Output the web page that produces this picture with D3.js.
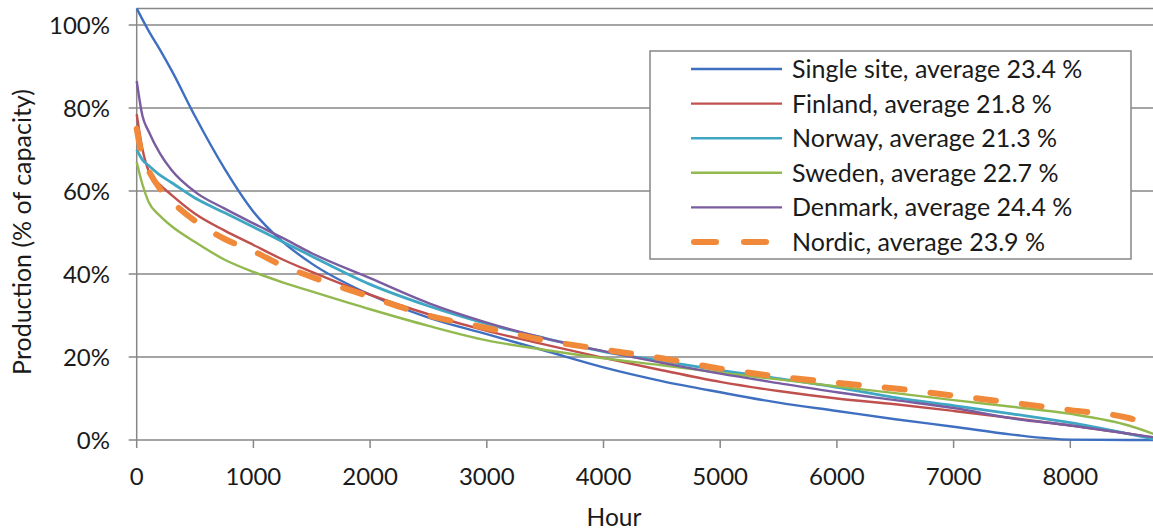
<!DOCTYPE html>
<html>
<head>
  <meta charset="utf-8">
  <title>Duration curves</title>
  <style>
  body { margin: 0; background: #fff; }
  text { font-family: Lato, "Open Sans", sans-serif; fill: #1a1a1a; }
  .tick-label { font-size: 24px; }
  .legend-font { font-size: 25px; }
  </style>
</head>
<body>
  <div id="chart"></div>
  <script src="https://cdn.jsdelivr.net/npm/d3@7"></script>
  <script>
  //hours of the year (sorted duration curve)
  var hours = [0, 50, 100, 200, 300, 500, 750, 1000, 1250, 1500, 2000, 2500, 3000, 3500,
    4000, 4500, 5000, 5500, 6000, 6500, 7000, 7500, 8000, 8500, 8760];

  //production in % of capacity
  var singleSite = [104, 101.3, 98.7, 94, 89, 78, 65.5, 55, 47.8, 42.5, 35, 29.5, 25.5, 21.5,
    17.5, 14.2, 11.5, 9, 7, 5, 3.2, 1.3, 0.1, 0, 0];
  var finland = [78.5, 70, 65, 61.5, 59, 54.5, 50.5, 47, 43.5, 40.5, 35, 30.3, 26.3, 23,
    19.8, 16.8, 14, 11.8, 10, 8.6, 7, 5.3, 3.5, 1.5, 0.3];
  var norway = [70, 67.5, 66.2, 63.8, 62, 58.3, 54.8, 51.3, 47.8, 44.3, 37.5, 32.3, 28, 24.5,
    21.3, 19, 16.8, 14.8, 12.7, 10.2, 8.3, 6.3, 4.2, 1.5, 0];
  var sweden = [67, 61.5, 57.5, 54, 51.5, 47.7, 43.5, 40.5, 38, 35.8, 31.5, 27.5, 24, 21.7,
    19.7, 18, 16.2, 14.6, 12.9, 11.3, 9.6, 8, 6.3, 3.5, 1];
  var denmark = [86.5, 78, 74.5, 69, 65, 59.8, 55.8, 52.2, 48.7, 45, 39, 33, 28.3, 24.5,
    21.4, 18.6, 16, 13.7, 11.5, 9.6, 7.7, 5.2, 3.5, 1.5, 0.5];
  var nordic = [75, 68, 65, 60.5, 57.5, 52.8, 48.5, 45.5, 42, 39.3, 34.5, 30, 27, 24,
    21.8, 19.7, 17.2, 15.3, 13.8, 12.4, 10.7, 9, 7.2, 5.3, 3];

  var seriesNames = ["Single site, average 23.4 %", "Finland, average 21.8 %", "Norway, average 21.3 %",
    "Sweden, average 22.7 %", "Denmark, average 24.4 %", "Nordic, average 23.9 %"];
  var seriesColors = ["#3f6fc0", "#c0504d", "#3fa7c4", "#92b94f", "#7a5ca0", "#f08a3a"];

  var xTicks = [0, 1000, 2000, 3000, 4000, 5000, 6000, 7000, 8000];
  var yTicks = [0, 20, 40, 60, 80, 100];

  var series = [singleSite, finland, norway, sweden, denmark, nordic].map(function(vals, i) {
    return {name: seriesNames[i], color: seriesColors[i], dashed: i == 5,
      values: vals.map(function(v, j) { return {h: hours[j], v: v}; })};
  });

  var width = 1153, height = 532;
  var svg = d3.select("#chart").append("svg")
    .attr("width", width)
    .attr("height", height);

  //scales - the plot is cut at the right edge like the original
  var x = d3.scaleLinear().domain([0, 8760]).range([136.7, 1159]);
  var y = d3.scaleLinear().domain([0, 104]).range([440, 8.4]);

  var grid = "#878787";

  //horizontal gridlines + top border
  svg.append("g").selectAll("line")
    .data(yTicks.concat([104]))
    .enter().append("line")
    .attr("x1", function(d) { return d == 104 ? x(0) : x(0) - 8; })
    .attr("x2", width)
    .attr("y1", function(d) { return y(d); })
    .attr("y2", function(d) { return y(d); })
    .attr("stroke", grid)
    .attr("stroke-width", 1.5);

  //y axis line
  svg.append("line")
    .attr("x1", x(0)).attr("x2", x(0))
    .attr("y1", y(104)).attr("y2", y(0))
    .attr("stroke", grid).attr("stroke-width", 1.5);

  //x ticks
  svg.append("g").selectAll("line")
    .data(xTicks)
    .enter().append("line")
    .attr("x1", function(d) { return x(d); })
    .attr("x2", function(d) { return x(d); })
    .attr("y1", y(0)).attr("y2", y(0) + 8)
    .attr("stroke", grid).attr("stroke-width", 1.5);

  //tick labels
  svg.append("g").selectAll("text")
    .data(yTicks)
    .enter().append("text")
    .attr("class", "tick-label")
    .attr("x", 110)
    .attr("y", function(d) { return y(d); })
    .attr("dy", "0.36em")
    .attr("text-anchor", "end")
    .text(function(d) { return d + "%"; });

  svg.append("g").selectAll("text")
    .data(xTicks)
    .enter().append("text")
    .attr("class", "tick-label")
    .attr("x", function(d) { return x(d); })
    .attr("y", 485)
    .attr("text-anchor", "middle")
    .text(function(d) { return d; });

  //axis titles
  svg.append("text")
    .attr("transform", "translate(31,232) rotate(-90)")
    .attr("text-anchor", "middle")
    .style("font-size", "25px")
    .text("Production (% of capacity)");

  svg.append("text")
    .style("font-size", "24.5px")
    .attr("x", 614)
    .attr("y", 526)
    .attr("text-anchor", "middle")
    .text("Hour");

  //the curves
  var line = d3.line()
    .x(function(d) { return x(d.h); })
    .y(function(d) { return y(d.v); })
    .curve(d3.curveMonotoneX);

  svg.append("g").selectAll("path")
    .data(series)
    .enter().append("path")
    .attr("d", function(d) { return line(d.values); })
    .attr("fill", "none")
    .attr("stroke", function(d) { return d.color; })
    .attr("stroke-width", function(d, i) { return d.dashed ? 6 : (i == 2 ? 2.8 : 2.4); })
    .attr("stroke-dasharray", function(d) { return d.dashed ? "20,26" : null; })
    .attr("stroke-linecap", function(d) { return d.dashed ? "round" : "butt"; });

  //legend box
  svg.append("rect")
    .attr("x", 650).attr("y", 51)
    .attr("width", 481).attr("height", 208)
    .attr("fill", "#fff")
    .attr("stroke", grid).attr("stroke-width", 1.5);

  var legend = svg.append("g")
    .attr("class", "legend-font")
    .selectAll("g")
    .data(series)
    .enter().append("g")
    .attr("transform", function(d, i) { return "translate(0," + (69 + i * 34.6) + ")"; });

  legend.append("line")
    .attr("x1", function(d) { return d.dashed ? 694 : 691; })
    .attr("x2", function(d) { return d.dashed ? 780 : 782; })
    .attr("stroke", function(d) { return d.color; })
    .attr("stroke-width", function(d) { return d.dashed ? 6 : 2.4; })
    .attr("stroke-dasharray", function(d) { return d.dashed ? "22,28" : null; })
    .attr("stroke-linecap", function(d) { return d.dashed ? "round" : "butt"; });

  legend.append("text")
    .attr("x", 792)
    .attr("dy", "0.36em")
    .text(function(d) { return d.name; });
  </script>
</body>
</html>
